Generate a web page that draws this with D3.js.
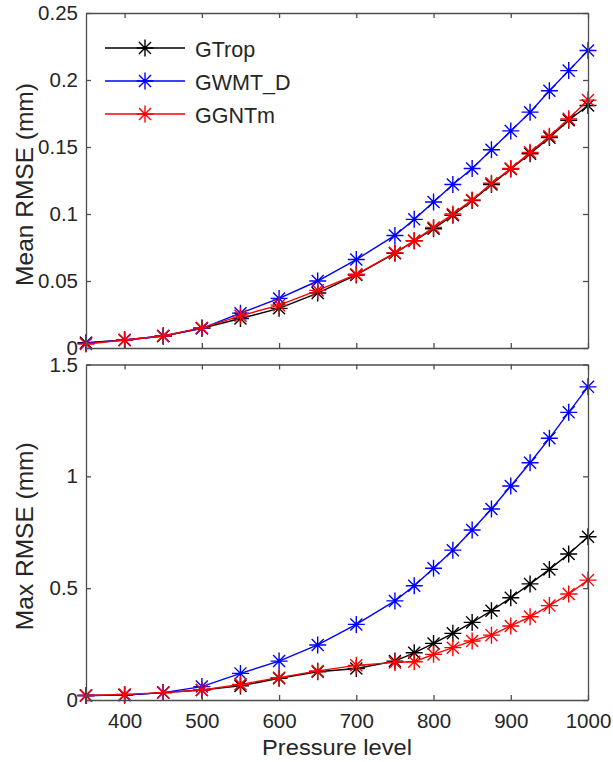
<!DOCTYPE html>
<html>
<head>
<meta charset="utf-8">
<script src="https://cdnjs.cloudflare.com/ajax/libs/d3/7.8.5/d3.min.js"></script>
<style>
    body { margin: 0; background: #fff; }
    text { font-family: "Liberation Sans", Arial, sans-serif; fill: #262626; }
</style>
</head>
<body>
<script>
// pressure levels (x axis)
var levels = [350, 400, 450, 500, 550, 600, 650, 700, 750, 775, 800, 825, 850, 875, 900, 925, 950, 975, 1000];

// mean RMSE (mm)
var meanGTrop = [0.004, 0.006, 0.009, 0.0147, 0.022, 0.0296, 0.041, 0.0545, 0.0707, 0.080, 0.089, 0.099, 0.110, 0.122, 0.1336, 0.145, 0.157, 0.170, 0.181];
var meanGWMT = [0.0035, 0.006, 0.009, 0.0147, 0.026, 0.037, 0.050, 0.066, 0.084, 0.096, 0.109, 0.122, 0.134, 0.148, 0.162, 0.176, 0.192, 0.207, 0.222];
var meanGGNTm = [0.003, 0.006, 0.009, 0.015, 0.024, 0.032, 0.043, 0.055, 0.071, 0.080, 0.090, 0.100, 0.1105, 0.123, 0.134, 0.146, 0.158, 0.171, 0.185];

// max RMSE (mm)
var maxGTrop = [0.02, 0.022, 0.033, 0.045, 0.063, 0.097, 0.126, 0.141, 0.174, 0.211, 0.253, 0.298, 0.347, 0.399, 0.457, 0.519, 0.584, 0.653, 0.73];
var maxGWMT = [0.02, 0.022, 0.033, 0.06, 0.119, 0.174, 0.246, 0.338, 0.443, 0.511, 0.589, 0.67, 0.76, 0.854, 0.957, 1.061, 1.17, 1.286, 1.40];
var maxGGNTm = [0.02, 0.025, 0.033, 0.045, 0.07, 0.1, 0.13, 0.155, 0.168, 0.171, 0.204, 0.234, 0.264, 0.29, 0.331, 0.372, 0.422, 0.474, 0.536];

var seriesNames = ['GTrop', 'GWMT_D', 'GGNTm'];
var seriesColors = ['#000000', '#0000ff', '#ff0000'];

var meanTicks = [0, 0.05, 0.1, 0.15, 0.2, 0.25];
var maxTicks = [0, 0.5, 1, 1.5];
var xTicks = [400, 500, 600, 700, 800, 900, 1000];

var W = 613, H = 762;
var plotLeft = 86, plotRight = 588;
var axisColor = '#4d4d4d';

var svg = d3.select('body').append('svg')
    .attr('width', W)
    .attr('height', H);

var xScale = d3.scaleLinear().domain([350, 1000]).range([plotLeft, plotRight]);

//asterisk marker like matlab '*'
function asterisk(cx, cy, r) {
    var d = r * Math.SQRT1_2;
    return 'M' + (cx - r) + ',' + cy + 'L' + (cx + r) + ',' + cy +
        'M' + cx + ',' + (cy - r) + 'L' + cx + ',' + (cy + r) +
        'M' + (cx - d) + ',' + (cy - d) + 'L' + (cx + d) + ',' + (cy + d) +
        'M' + (cx - d) + ',' + (cy + d) + 'L' + (cx + d) + ',' + (cy - d);
}

function drawPanel(top, bottom, yMax, yTicks, seriesData, yLabel, showX) {
    var yScale = d3.scaleLinear().domain([0, yMax]).range([bottom, top]);
    var g = svg.append('g');

    //series lines + markers
    seriesData.forEach(function(vals, i) {
        var pts = levels.map(function(l, j) { return {x: l, y: vals[j]}; });
        var line = d3.line()
            .x(function(d) { return xScale(d.x); })
            .y(function(d) { return yScale(d.y); });
        g.append('path')
            .attr('d', line(pts))
            .attr('fill', 'none')
            .attr('stroke', seriesColors[i])
            .attr('stroke-width', 1.4);
        g.selectAll('.m' + i)
            .data(pts)
            .enter().append('path')
            .attr('d', function(d) { return asterisk(xScale(d.x), yScale(d.y), 8.5); })
            .attr('stroke', seriesColors[i])
            .attr('stroke-width', 1.4)
            .attr('fill', 'none');
    });

    //axes, ticks inward on all four sides
    var yAxisL = d3.axisLeft(yScale).tickValues(yTicks).tickSizeInner(-5).tickSizeOuter(0)
        .tickPadding(8).tickFormat(d3.format('~g'));
    var yAxisR = d3.axisRight(yScale).tickValues(yTicks).tickSizeInner(-5).tickSizeOuter(0).tickFormat('');
    var xAxisB = d3.axisBottom(xScale).tickValues(xTicks).tickSizeInner(-5).tickSizeOuter(0)
        .tickPadding(13).tickFormat(showX ? d3.format('d') : '');
    var xAxisT = d3.axisTop(xScale).tickValues(xTicks).tickSizeInner(-5).tickSizeOuter(0).tickFormat('');

    [[yAxisL, 'translate(' + plotLeft + ',0)'],
     [yAxisR, 'translate(' + plotRight + ',0)'],
     [xAxisB, 'translate(0,' + bottom + ')'],
     [xAxisT, 'translate(0,' + top + ')']].forEach(function(a) {
        var ax = g.append('g').attr('transform', a[1]).call(a[0]);
        ax.select('.domain').attr('stroke', axisColor).attr('stroke-width', 1.3);
        ax.selectAll('.tick line').attr('stroke', axisColor).attr('stroke-width', 1.3);
        ax.selectAll('.tick text').style('font-size', '20.5px').attr('fill', '#262626');
    });

    g.append('text')
        .attr('transform', 'translate(33,' + ((top + bottom) / 2 + 4) + ') rotate(-90)')
        .attr('text-anchor', 'middle')
        .style('font-size', '24.5px')
        .text(yLabel);
}

drawPanel(13, 348, 0.25, meanTicks, [meanGTrop, meanGWMT, meanGGNTm], 'Mean RMSE (mm)', false);
drawPanel(364.5, 700, 1.5, maxTicks, [maxGTrop, maxGWMT, maxGGNTm], 'Max RMSE (mm)', true);

svg.append('text')
    .attr('transform', 'translate(' + ((plotLeft + plotRight) / 2) + ',755) scale(1.1,1)')
    .attr('text-anchor', 'middle')
    .style('font-size', '21.5px')
    .text('Pressure level');

//legend
var legend = svg.append('g');
seriesNames.forEach(function(name, i) {
    var ly = 48 + i * 33;
    legend.append('line')
        .attr('x1', 105).attr('x2', 185)
        .attr('y1', ly).attr('y2', ly)
        .attr('stroke', seriesColors[i])
        .attr('stroke-width', 1.4);
    legend.append('path')
        .attr('d', asterisk(145, ly, 8.5))
        .attr('stroke', seriesColors[i])
        .attr('stroke-width', 1.4);
    legend.append('text')
        .attr('x', 195).attr('y', ly + 9)
        .style('font-size', '21.5px')
        .text(name);
});
</script>
</body>
</html>
